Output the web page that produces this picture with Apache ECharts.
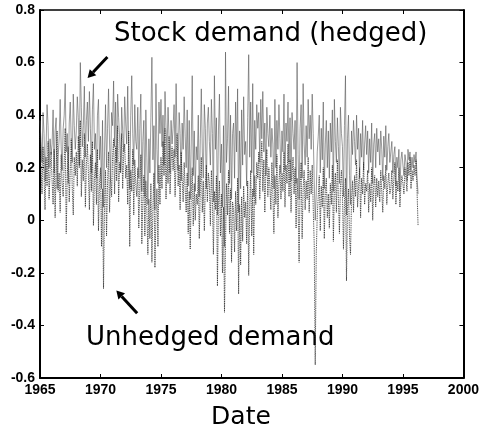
<!DOCTYPE html>
<html>
<head>
<meta charset="utf-8">
<script src="https://cdn.jsdelivr.net/npm/echarts@6/dist/echarts.min.js"></script>
<style>
  html, body { margin: 0; padding: 0; background: #fff; }
  #chart { width: 482px; height: 437px; }
</style>
</head>
<body>
<div id="chart"></div>
<script>
// Monthly series starting January 1965
const startYear = 1965;

// Stock demand, hedged (monthly)
const hedged = [
  0.38, 0.30, 0.22, 0.41, 0.33, 0.15, 0.27, 0.44, 0.36, 0.20, 0.31, 0.25, // 1965
  0.29, 0.42, 0.18, 0.34, 0.39, 0.12, 0.24, 0.31, 0.46, 0.28, 0.19, 0.35, // 1966
  0.40, 0.52, 0.26, 0.33, 0.14, 0.37, 0.45, 0.30, 0.22, 0.48, 0.36, 0.27, // 1967
  0.34, 0.47, 0.39, 0.21, 0.60, 0.43, 0.28, 0.36, 0.51, 0.24, 0.38, 0.45, // 1968
  0.30, 0.49, 0.35, 0.18, 0.42, 0.52, 0.27, 0.33, 0.16, 0.40, 0.46, 0.23, // 1969
  0.32, 0.12, 0.38, 0.05, 0.26, 0.44, 0.20, 0.35, 0.50, 0.29, 0.17, 0.41, // 1970
  0.36, 0.53, 0.28, 0.45, 0.22, 0.48, 0.39, 0.31, 0.19, 0.43, 0.34, 0.26, // 1971
  0.47, 0.37, 0.29, 0.51, 0.25, 0.12, 0.40, 0.55, 0.33, 0.21, 0.44, 0.30, // 1972
  0.27, 0.43, 0.16, 0.35, 0.48, 0.11, 0.30, 0.38, 0.09, 0.42, 0.24, 0.06, // 1973
  0.31, 0.18, 0.39, 0.62, 0.23, 0.36, 0.04, 0.52, 0.27, 0.14, 0.45, 0.33, // 1974
  0.46, 0.28, 0.40, 0.21, 0.49, 0.35, 0.26, 0.43, 0.32, 0.18, 0.38, 0.29, // 1975
  0.35, 0.44, 0.24, 0.52, 0.30, 0.19, 0.41, 0.33, 0.15, 0.37, 0.27, 0.47, // 1976
  0.32, 0.20, 0.42, 0.13, 0.38, 0.08, 0.29, 0.55, 0.17, 0.34, 0.11, 0.28, // 1977
  0.23, 0.40, 0.09, 0.31, 0.50, 0.26, 0.16, 0.44, 0.35, 0.12, 0.37, 0.43, // 1978
  0.30, 0.21, 0.46, 0.33, 0.07, 0.55, 0.27, 0.39, 0.02, 0.34, 0.48, 0.18, // 1979
  0.29, 0.05, 0.36, -0.10, 0.64, 0.22, 0.31, 0.51, 0.14, 0.40, 0.08, 0.33, // 1980
  0.37, 0.16, 0.45, 0.26, 0.50, 0.03, 0.34, 0.12, 0.42, 0.21, 0.47, 0.25, // 1981
  0.30, 0.13, 0.39, 0.63, 0.24, 0.45, 0.18, 0.52, 0.09, 0.38, 0.27, 0.44, // 1982
  0.35, 0.41, 0.22, 0.46, 0.31, 0.49, 0.26, 0.37, 0.17, 0.43, 0.33, 0.28, // 1983
  0.40, 0.24, 0.35, 0.29, 0.12, 0.46, 0.20, 0.38, 0.27, 0.44, 0.31, 0.18, // 1984
  0.34, 0.26, 0.48, 0.19, 0.37, 0.30, 0.45, 0.22, 0.39, 0.15, 0.41, 0.33, // 1985
  0.27, 0.38, 0.14, 0.60, 0.25, 0.08, 0.35, 0.44, 0.16, 0.52, 0.29, 0.21, // 1986
  0.36, 0.24, 0.46, 0.31, 0.40, 0.27, 0.48, 0.33, 0.15, 0.00, 0.10, 0.26, // 1987
  0.32, 0.40, 0.18, 0.35, 0.23, 0.45, 0.12, 0.29, 0.38, 0.20, 0.34, 0.16, // 1988
  0.37, 0.26, 0.42, 0.11, 0.46, 0.30, 0.22, 0.39, 0.28, 0.14, 0.43, 0.33, // 1989
  0.28, 0.09, 0.36, 0.55, 0.02, 0.31, 0.40, 0.17, 0.06, 0.34, 0.25, 0.38, // 1990
  0.30, 0.21, 0.40, 0.27, 0.35, 0.16, 0.33, 0.24, 0.38, 0.19, 0.29, 0.36, // 1991
  0.25, 0.34, 0.18, 0.31, 0.22, 0.37, 0.14, 0.29, 0.33, 0.20, 0.35, 0.26, // 1992
  0.31, 0.21, 0.34, 0.27, 0.15, 0.32, 0.24, 0.36, 0.19, 0.28, 0.33, 0.22, // 1993
  0.26, 0.30, 0.18, 0.25, 0.28, 0.13, 0.24, 0.20, 0.27, 0.11, 0.23, 0.26, // 1994
  0.21, 0.17, 0.25, 0.22, 0.15, 0.27, 0.23, 0.26, 0.19, 0.24, 0.20, 0.25, // 1995
  0.22, 0.26, 0.16, 0.10                                                  // 1996
];

// Unhedged demand (monthly)
const unhedged = [
  0.33, 0.21, 0.10, 0.28, 0.17, 0.04, 0.24, 0.13, 0.30, 0.08, 0.19, 0.26, // 1965
  0.15, 0.06, 0.27, 0.01, 0.20, 0.34, 0.11, 0.18, 0.03, 0.25, 0.14, 0.09, // 1966
  0.22, 0.35, -0.05, 0.16, 0.28, 0.07, 0.19, 0.31, 0.12, 0.02, 0.24, 0.17, // 1967
  0.26, 0.13, 0.32, 0.20, 0.38, 0.09, 0.23, 0.15, 0.33, 0.05, 0.21, 0.29, // 1968
  0.18, 0.04, 0.25, 0.11, 0.30, -0.02, 0.16, 0.22, 0.06, 0.27, -0.04, 0.14, // 1969
  0.20, -0.10, 0.12, -0.26, 0.05, 0.19, -0.06, 0.14, 0.26, 0.03, 0.17, 0.09, // 1970
  0.24, 0.31, 0.10, 0.28, 0.15, 0.36, 0.07, 0.22, 0.18, 0.33, 0.12, 0.25, // 1971
  0.29, 0.16, 0.21, 0.06, 0.34, -0.10, 0.19, 0.11, 0.27, 0.02, 0.23, 0.14, // 1972
  0.09, 0.20, -0.03, 0.13, 0.25, -0.09, 0.07, 0.17, -0.06, 0.15, 0.04, -0.13, // 1973
  0.08, -0.07, 0.14, -0.16, 0.05, 0.18, -0.18, 0.02, 0.12, -0.10, 0.21, 0.06, // 1974
  0.24, 0.12, 0.30, 0.17, 0.35, 0.08, 0.26, 0.14, 0.32, 0.10, 0.22, 0.28, // 1975
  0.19, 0.27, 0.09, 0.23, 0.33, 0.13, 0.21, 0.04, 0.26, 0.16, 0.07, 0.22, // 1976
  0.12, 0.03, 0.18, -0.05, 0.11, -0.11, 0.09, 0.20, -0.02, 0.14, 0.00, 0.10, // 1977
  0.06, 0.17, -0.07, 0.12, 0.24, 0.03, 0.15, -0.04, 0.13, 0.21, 0.07, 0.18, // 1978
  0.14, -0.02, 0.19, 0.08, -0.13, 0.11, 0.04, 0.17, -0.25, 0.06, 0.15, -0.06, // 1979
  0.10, -0.20, 0.05, -0.35, -0.09, 0.14, 0.02, 0.19, -0.05, 0.12, -0.16, 0.07, // 1980
  0.04, -0.12, 0.11, -0.04, 0.16, -0.28, 0.06, -0.17, 0.09, -0.08, 0.13, 0.01, // 1981
  0.07, -0.09, 0.15, -0.21, 0.05, 0.19, -0.06, 0.12, -0.13, 0.17, 0.06, 0.22, // 1982
  0.16, 0.26, 0.08, 0.21, 0.30, 0.11, 0.23, 0.03, 0.18, 0.27, 0.09, 0.20, // 1983
  0.13, 0.04, 0.22, 0.10, -0.05, 0.17, 0.06, 0.25, 0.01, 0.14, 0.21, 0.08, // 1984
  0.18, 0.11, 0.26, 0.05, 0.21, 0.14, 0.29, 0.09, 0.23, 0.03, 0.17, 0.24, // 1985
  0.10, 0.20, -0.03, 0.16, 0.06, -0.16, 0.13, 0.22, -0.07, 0.12, 0.19, 0.04, // 1986
  0.15, 0.08, 0.24, 0.03, 0.19, 0.10, 0.21, 0.05, -0.09, -0.55, -0.13, 0.02, // 1987
  0.09, 0.17, -0.04, 0.13, 0.05, 0.20, -0.07, 0.11, 0.16, 0.01, 0.10, -0.03, // 1988
  0.14, 0.06, 0.21, -0.08, 0.12, 0.18, 0.03, 0.23, 0.08, -0.05, 0.13, 0.19, // 1989
  0.10, -0.11, 0.07, 0.16, -0.23, 0.04, 0.12, -0.06, -0.13, 0.08, 0.15, 0.03, // 1990
  0.17, 0.09, 0.23, 0.05, 0.13, 0.20, 0.01, 0.16, 0.10, 0.22, 0.06, 0.14, // 1991
  0.11, 0.19, 0.03, 0.14, 0.07, 0.20, 0.00, 0.13, 0.17, 0.05, 0.16, 0.09, // 1992
  0.15, 0.07, 0.19, 0.11, 0.03, 0.17, 0.12, 0.21, 0.06, 0.14, 0.18, 0.10, // 1993
  0.12, 0.19, 0.08, 0.16, 0.22, 0.06, 0.15, 0.11, 0.20, 0.05, 0.13, 0.17, // 1994
  0.14, 0.10, 0.20, 0.16, 0.11, 0.22, 0.17, 0.24, 0.12, 0.19, 0.15, 0.21, // 1995
  0.17, 0.23, 0.11, -0.02                                                  // 1996
];

// Axis ranges and tick steps
const xRange = [1965, 2000];
const xStep = 5;
const yRange = [-0.6, 0.8];
const yStep = 0.2;

// Annotation labels
const hedgedLabel = 'Stock demand (hedged)';
const unhedgedLabel = 'Unhedged demand';
const xTitle = 'Date';

// Pair each monthly value with its decimal-year date
const toPoints = arr => arr.map((v, i) => [startYear + i / 12, v]);

const tickFont = {
  color: '#000',
  fontFamily: 'Liberation Sans',
  fontWeight: 'bold',
  fontSize: 14
};

const chart = echarts.init(document.getElementById('chart'), null, { renderer: 'canvas' });

const option = {
  animation: false,
  backgroundColor: '#fff',
  grid: { left: 40, right: 15, top: 10, bottom: 59 },
  xAxis: [
    {
      type: 'value', position: 'bottom',
      min: xRange[0], max: xRange[1], interval: xStep,
      axisLine: { onZero: false, lineStyle: { color: '#000', width: 2 } },
      axisTick: { inside: true, length: 4, lineStyle: { color: '#000', width: 1 } },
      splitLine: { show: false },
      axisLabel: Object.assign({ margin: 5, formatter: v => String(Math.round(v)) }, tickFont)
    },
    {
      type: 'value', position: 'top',
      min: xRange[0], max: xRange[1], interval: xStep,
      axisLine: { onZero: false, lineStyle: { color: '#000', width: 1.5 } },
      axisTick: { inside: true, length: 4, lineStyle: { color: '#000', width: 1 } },
      splitLine: { show: false },
      axisLabel: { show: false }
    }
  ],
  yAxis: [
    {
      type: 'value', position: 'left',
      min: yRange[0], max: yRange[1], interval: yStep,
      axisLine: { show: true, onZero: false, lineStyle: { color: '#000', width: 2 } },
      axisTick: { show: true, inside: true, length: 4, lineStyle: { color: '#000', width: 1 } },
      splitLine: { show: false },
      axisLabel: Object.assign({ margin: 5, formatter: v => String(Number(v.toFixed(1))) }, tickFont)
    },
    {
      type: 'value', position: 'right',
      min: yRange[0], max: yRange[1], interval: yStep,
      axisLine: { show: true, onZero: false, lineStyle: { color: '#000', width: 2 } },
      axisTick: { show: true, inside: true, length: 4, lineStyle: { color: '#000', width: 1 } },
      splitLine: { show: false },
      axisLabel: { show: false }
    }
  ],
  series: [
    {
      name: hedgedLabel, type: 'line', data: toPoints(hedged),
      xAxisIndex: 0, yAxisIndex: 0,
      showSymbol: false, symbol: 'none',
      lineStyle: { color: '#555', width: 0.6 }
    },
    {
      name: unhedgedLabel, type: 'line', data: toPoints(unhedged),
      xAxisIndex: 0, yAxisIndex: 0,
      showSymbol: false, symbol: 'none',
      lineStyle: { color: '#222', width: 0.9, type: 'dotted' }
    }
  ]
};

chart.setOption(option);

// Arrow from tail to tip, given in data coordinates
function arrow(tail, tip) {
  const a = chart.convertToPixel({ gridIndex: 0 }, tail);
  const b = chart.convertToPixel({ gridIndex: 0 }, tip);
  const dx = b[0] - a[0], dy = b[1] - a[1];
  const len = Math.hypot(dx, dy);
  const ux = dx / len, uy = dy / len;
  const head = 8, half = 4.5;
  const bx = b[0] - ux * head, by = b[1] - uy * head;
  return [
    {
      type: 'line', silent: true,
      shape: { x1: a[0], y1: a[1], x2: bx, y2: by },
      style: { stroke: '#000', lineWidth: 3 }
    },
    {
      type: 'polygon', silent: true,
      shape: { points: [[b[0], b[1]], [bx - uy * half, by + ux * half], [bx + uy * half, by - ux * half]] },
      style: { fill: '#000' }
    }
  ];
}

const labelFont = 'DejaVu Sans, Verdana, sans-serif';

chart.setOption({
  graphic: [
    {
      type: 'text', left: 114, top: 21, silent: true,
      style: { text: hedgedLabel, fill: '#000', font: '26px ' + labelFont }
    },
    {
      type: 'text', left: 86, top: 325, silent: true,
      style: { text: unhedgedLabel, fill: '#000', font: '26px ' + labelFont }
    },
    {
      type: 'text', left: 'center', top: 405, silent: true,
      style: { text: xTitle, fill: '#000', font: '25px ' + labelFont }
    }
  ]
    .concat(arrow([1970.57, 0.621], [1968.93, 0.541]))
    .concat(arrow([1973.03, -0.354], [1971.31, -0.267]))
});
</script>
</body>
</html>
